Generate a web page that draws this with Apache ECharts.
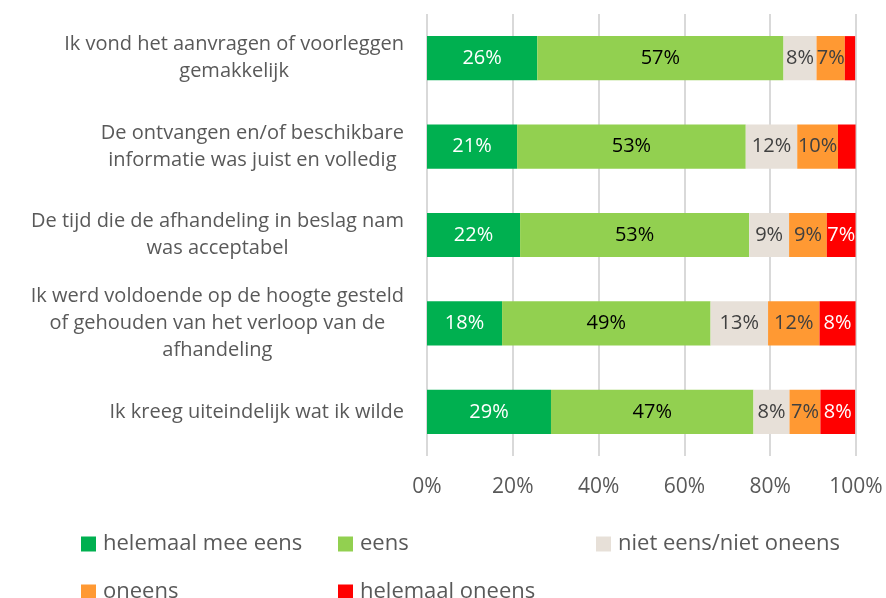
<!DOCTYPE html>
<html>
<head>
<meta charset="utf-8">
<script src="https://cdn.jsdelivr.net/npm/echarts@6/dist/echarts.min.js"></script>
<style>html,body{margin:0;padding:0;background:#fff;}#c{width:886px;height:598px;}</style>
</head>
<body>
<div id="c"></div>
<script>
const categories = [
  "Ik vond het aanvragen of voorleggen\ngemakkelijk",
  "De ontvangen en/of beschikbare\ninformatie was juist en volledig",
  "De tijd die de afhandeling in beslag nam\nwas acceptabel",
  "Ik werd voldoende op de hoogte gesteld\nof gehouden van het verloop van de\nafhandeling",
  "Ik kreeg uiteindelijk wat ik wilde"
];
const seriesNames = ["helemaal mee eens", "eens", "niet eens/niet oneens", "oneens", "helemaal oneens"];
const helemaalMeeEens = [25.7, 21.0, 21.7, 17.5, 28.9];
const eens = [57.4, 53.3, 53.4, 48.6, 47.2];
const nietEensNietOneens = [7.7, 12.0, 9.3, 13.4, 8.4];
const oneens = [6.6, 9.5, 8.8, 12.0, 7.2];
const helemaalOneens = [2.4, 4.1, 6.7, 8.4, 8.1];
const xTicks = [0, 20, 40, 60, 80, 100];

const values = [helemaalMeeEens, eens, nietEensNietOneens, oneens, helemaalOneens];
const colors = ["#00B050", "#92D050", "#E7E0D8", "#FF9933", "#FF0000"];
const labelColors = ["#FFFFFF", "#000000", "#404040", "#404040", "#FFFFFF"];
const FONT = "Open Sans";

const chart = echarts.init(document.getElementById('c'), null, {renderer: 'canvas'});

const series = seriesNames.map((name, i) => ({
  name: name,
  type: 'bar',
  stack: 'total',
  barWidth: '50%',
  data: values[i],
  itemStyle: {color: colors[i]},
  label: {
    show: true,
    position: 'inside',
    fontFamily: FONT,
    fontSize: 20,
    color: labelColors[i],
    formatter: p => (p.value < 5 ? '' : Math.round(p.value) + '%')
  },
  emphasis: {disabled: true}
}));

const legendPos = [[81, 533], [338, 533], [596, 533], [81, 581], [338, 581]];
const legends = seriesNames.map((name, i) => ({
  data: [name],
  left: legendPos[i][0],
  top: legendPos[i][1],
  padding: 0,
  itemWidth: 15,
  itemHeight: 15,
  itemGap: 0,
  icon: 'rect',
  selectedMode: false,
  textStyle: {fontFamily: FONT, fontSize: 22, color: '#595959', padding: [0, 0, 0, 2]}
}));

chart.setOption({
  animation: false,
  backgroundColor: '#FFFFFF',
  grid: {left: 427, right: 30, top: 14, bottom: 142, containLabel: false},
  legend: legends,
  xAxis: {
    type: 'value',
    min: 0,
    max: 100,
    interval: 20,
    axisLine: {show: false},
    axisTick: {show: false},
    splitLine: {show: true, lineStyle: {color: '#D9D9D9', width: 2}},
    axisLabel: {
      margin: 21,
      fontFamily: FONT,
      fontSize: 21,
      color: '#595959',
      formatter: v => (xTicks.indexOf(v) >= 0 ? v + '%' : '')
    }
  },
  yAxis: {
    type: 'category',
    inverse: true,
    data: categories,
    axisLine: {show: false},
    axisTick: {show: false},
    axisLabel: {
      margin: 23,
      align: 'right',
      formatter: v => v.split('\n').map(l => '{c|' + l + '}').join('\n'),
      rich: {
        c: {align: 'center', fontFamily: FONT, fontSize: 20, color: '#595959', lineHeight: 27}
      }
    }
  },
  series: series
});
</script>
</body>
</html>
